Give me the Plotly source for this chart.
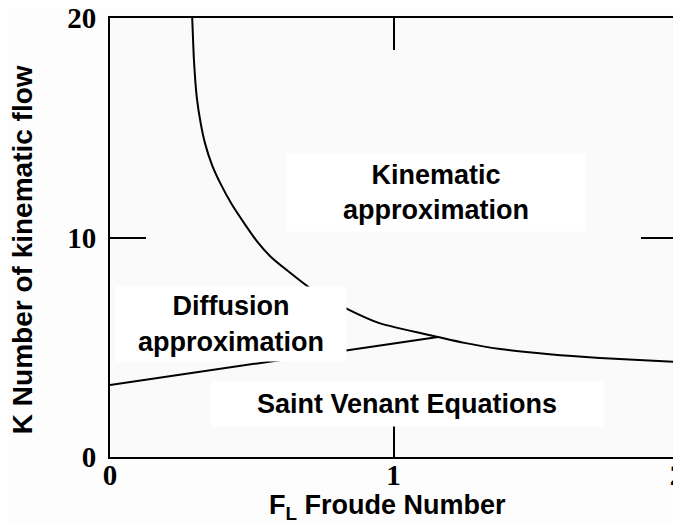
import plotly.graph_objects as go

# Kinematic / diffusion boundary curve (F_L, K)
kin_F = [0.290, 0.293, 0.296, 0.306, 0.320, 0.335, 0.360, 0.388, 0.430, 0.476, 0.520, 0.565,
         0.620, 0.716, 0.836, 0.950, 1.157, 1.250, 1.376, 1.550, 1.728, 2.0]
kin_K = [20.0, 19.0, 18.1, 16.4, 15.2, 14.3, 13.3, 12.5, 11.5, 10.6, 9.8, 9.15,
         8.55, 7.6, 6.75, 6.1, 5.47, 5.2, 4.92, 4.68, 4.51, 4.33]

# Diffusion / Saint Venant boundary line
diff_F = [0.0, 1.157]
diff_K = [3.28, 5.47]

x_ticks = [0, 1, 2]
x_ticklabels = ["0", "1", "2"]
y_ticks = [0, 10, 20]
y_ticklabels = ["0", "10", "20"]

region_labels = ["Kinematic<br>approximation", "Diffusion<br>approximation", "Saint Venant Equations"]
region_F = [1.150, 0.427, 1.048]
region_K = [12.05, 6.06, 2.41]
region_box_w = [296, 228, 390]
region_box_h = [75, 72, 42]

fig = go.Figure()
fig.add_trace(go.Scatter(x=kin_F, y=kin_K, mode="lines",
                         line=dict(color="black", width=2, shape="spline", smoothing=0.6),
                         hoverinfo="skip", showlegend=False))
fig.add_trace(go.Scatter(x=diff_F, y=diff_K, mode="lines",
                         line=dict(color="black", width=2),
                         hoverinfo="skip", showlegend=False))

label_font = dict(family="Liberation Sans, Arial, sans-serif", size=27, color="black")
for txt, fx, ky, w, h in zip(region_labels, region_F, region_K, region_box_w, region_box_h):
    fig.add_annotation(x=fx, y=ky, xref="x", yref="y", text="<b>" + txt + "</b>",
                       showarrow=False, bgcolor="white", width=w, height=h,
                       align="center", valign="middle", font=label_font)

# Axis titles
fig.add_annotation(x=0.49, y=-0.114, xref="paper", yref="paper",
                   text="<b>F<sub>L</sub> Froude Number</b>", showarrow=False,
                   xanchor="center", yanchor="middle",
                   font=dict(family="Liberation Sans, Arial, sans-serif", size=27, color="black"))
fig.add_annotation(x=-0.155, y=0.4715, xref="paper", yref="paper",
                   text="<b>K Number of kinematic flow</b>", showarrow=False, textangle=-90,
                   xanchor="center", yanchor="middle",
                   font=dict(family="Liberation Sans, Arial, sans-serif", size=28, color="black"))

tick_font = dict(family="Liberation Serif, Times New Roman, serif", size=29, color="black", weight="bold")

fig.update_xaxes(range=[0, 2], tickvals=x_ticks, ticktext=x_ticklabels, automargin=False,
                 showline=True, linecolor="black", linewidth=2, mirror="ticks",
                 ticks="inside", ticklen=32, tickwidth=1.5, tickcolor="black",
                 showgrid=False, zeroline=False, tickfont=tick_font, ticklabelstandoff=-9,
                 ticklabeloverflow="allow")
fig.update_yaxes(range=[0, 20], tickvals=y_ticks, ticktext=y_ticklabels, automargin=False,
                 showline=True, linecolor="black", linewidth=2, mirror="ticks",
                 ticks="inside", ticklen=36, tickwidth=1.5, tickcolor="black",
                 showgrid=False, zeroline=False, tickfont=tick_font, ticklabelstandoff=6,
                 ticklabeloverflow="allow")

# The page body adds an 8px margin, so the figure is sized to fit the window after it.
fig.update_layout(width=673, height=515,
                  margin=dict(l=102, r=4, t=10, b=66),
                  plot_bgcolor="#fafafa", paper_bgcolor="#fdfdfd",
                  showlegend=False)

fig.write_html("out.html")
